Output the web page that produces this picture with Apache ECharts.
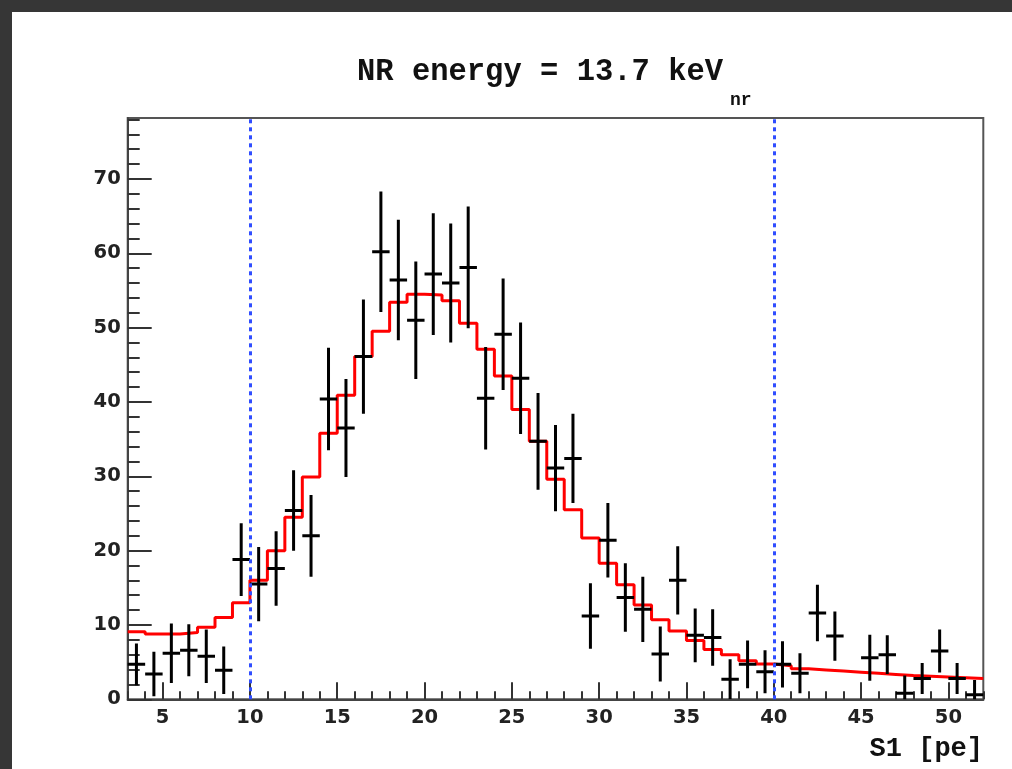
<!DOCTYPE html>
<html>
<head>
<meta charset="utf-8">
<script src="https://cdn.jsdelivr.net/npm/echarts@6/dist/echarts.min.js"></script>
<style>
  html, body { margin: 0; padding: 0; width: 1012px; height: 769px; overflow: hidden; background: #363636; }
  #chart { position: absolute; left: 12px; top: 12px; width: 1000px; height: 757px; background: #ffffff; }
</style>
</head>
<body>
<div id="chart"></div>
<script>
// S1 spectrum for 13.7 keVnr nuclear recoils: measured counts per 1 pe bin
const binCenters = [3.5, 4.5, 5.5, 6.5, 7.5, 8.5, 9.5, 10.5, 11.5, 12.5, 13.5, 14.5, 15.5, 16.5, 17.5,
  18.5, 19.5, 20.5, 21.5, 22.5, 23.5, 24.5, 25.5, 26.5, 27.5, 28.5, 29.5, 30.5, 31.5, 32.5,
  33.5, 34.5, 35.5, 36.5, 37.5, 38.5, 39.5, 40.5, 41.5, 42.5, 43.5, 44.5, 45.5, 46.5, 47.5,
  48.5, 49.5, 50.5, 51.5];
const counts = [4.7, 3.4, 6.2, 6.6, 5.8, 3.9, 18.8, 15.5, 17.6, 25.4, 22.0, 40.4, 36.5, 46.1, 60.2,
  56.4, 51.0, 57.2, 56.0, 58.1, 40.5, 49.1, 43.2, 34.7, 31.1, 32.4, 11.2, 21.4, 13.7, 12.1,
  6.1, 16.0, 8.6, 8.3, 2.7, 4.7, 3.7, 4.7, 3.5, 11.6, 8.5, null, 5.6, 6.0, 0.8,
  2.8, 6.5, 2.8, 0.6];
const countErrors = [2.8, 3.0, 4.0, 3.5, 3.6, 3.2, 4.9, 5.0, 5.0, 5.4, 5.5, 6.9, 6.6, 7.7, 8.1,
  8.1, 7.9, 8.2, 8.0, 8.2, 6.9, 7.5, 7.5, 6.5, 5.8, 6.0, 4.4, 5.0, 4.6, 4.4,
  3.7, 4.6, 3.6, 3.8, 2.7, 3.2, 2.9, 3.1, 2.7, 3.8, 3.3, null, 3.1, 2.6, 2.4,
  2.1, 2.9, 2.1, 2.0];

// Model prediction, one value per bin starting at each lower edge
const fitEdges = [3, 4, 5, 6, 7, 8, 9, 10, 11, 12, 13, 14, 15, 16, 17, 18, 19, 20, 21, 22, 23, 24, 25,
  26, 27, 28, 29, 30, 31, 32, 33, 34, 35, 36, 37, 38, 39, 40, 41, 42, 43, 44, 45, 46, 47, 48,
  49, 50, 51, 52];
const fitValues = [9.1, 8.8, 8.8, 9.0, 9.7, 11.0, 13.0, 16.0, 20.0, 24.5, 29.9, 35.8, 40.9, 46.1, 49.5,
  53.4, 54.5, 54.4, 53.6, 50.6, 47.1, 43.5, 39.0, 34.7, 29.6, 25.5, 21.7, 18.3, 15.4, 12.7,
  10.7, 9.2, 7.9, 6.7, 6.0, 5.2, 4.75, 4.5, 4.1, 3.95, 3.8, 3.65, 3.5, 3.35, 3.2,
  3.1, 3.0, 2.9, 2.8];

// Analysis window in S1
const cutLines = [10, 40];

// Axis tick positions
const xTickLabels = [5, 10, 15, 20, 25, 30, 35, 40, 45, 50];
const xMinorTicks = [3, 4, 5, 6, 7, 8, 9, 10, 11, 12, 13, 14, 15, 16, 17, 18, 19, 20, 21, 22, 23, 24,
  25, 26, 27, 28, 29, 30, 31, 32, 33, 34, 35, 36, 37, 38, 39, 40, 41, 42, 43, 44, 45, 46, 47,
  48, 49, 50, 51, 52];
const yTickLabels = [0, 10, 20, 30, 40, 50, 60, 70];
const yMinorTicks = [0, 2, 4, 6, 8, 10, 12, 14, 16, 18, 20, 22, 24, 26, 28, 30, 32, 34, 36, 38, 40,
  42, 44, 46, 48, 50, 52, 54, 56, 58, 60, 62, 64, 66, 68, 70, 72, 74, 76, 78];

const X_MIN = 3, X_MAX = 52, Y_MIN = 0, Y_MAX = 78.2;

// Data table for the error-bar crosses (empty bins are not drawn)
const pointData = [];
binCenters.forEach((c, i) => {
  if (counts[i] !== null) pointData.push([c, counts[i], countErrors[i]]);
});

// Step-histogram path for the model: last bin extended to the upper edge
const fitData = fitEdges.map((e, i) => [e, fitValues[Math.min(i, fitValues.length - 1)]]);

const tickLabelStyle = {
  fontFamily: 'DejaVu Sans', fontWeight: 'bold', fontSize: 19.5, color: '#222'
};
const tickLine = { color: '#333', width: 2 };

const chart = echarts.init(document.getElementById('chart'), null, { renderer: 'canvas' });

chart.setOption({
  animation: false,
  backgroundColor: '#ffffff',
  grid: {
    left: 115.7, top: 106, width: 855.6, height: 581.3,
    show: true, borderColor: '#555', borderWidth: 2, backgroundColor: 'transparent'
  },
  xAxis: [
    {
      type: 'value', min: X_MIN, max: X_MAX, position: 'bottom',
      axisLine: { show: true, onZero: false, lineStyle: { color: '#444', width: 2 } },
      axisTick: { show: true, inside: true, length: 17, customValues: xTickLabels, lineStyle: tickLine },
      axisLabel: Object.assign({ show: true, margin: 9, customValues: xTickLabels }, tickLabelStyle),
      splitLine: { show: false }
    },
    {
      type: 'value', min: X_MIN, max: X_MAX, position: 'bottom', offset: 0,
      axisLine: { show: false },
      axisTick: { show: true, inside: true, length: 8, customValues: xMinorTicks, lineStyle: tickLine },
      axisLabel: { show: false },
      splitLine: { show: false }
    }
  ],
  yAxis: [
    {
      type: 'value', min: Y_MIN, max: Y_MAX, position: 'left',
      axisLine: { show: true, onZero: false, lineStyle: { color: '#444', width: 2 } },
      axisTick: { show: true, inside: true, length: 24, customValues: yTickLabels, lineStyle: tickLine },
      axisLabel: Object.assign({ show: true, margin: 7, customValues: yTickLabels }, tickLabelStyle),
      splitLine: { show: false }
    },
    {
      type: 'value', min: Y_MIN, max: Y_MAX, position: 'left', offset: 0,
      axisLine: { show: false },
      axisTick: { show: true, inside: true, length: 12, customValues: yMinorTicks, lineStyle: tickLine },
      axisLabel: { show: false },
      splitLine: { show: false }
    }
  ],
  series: [
    {
      name: 'model',
      type: 'line',
      xAxisIndex: 0, yAxisIndex: 0,
      step: 'end',
      data: fitData,
      showSymbol: false,
      symbol: 'none',
      lineStyle: { color: '#ff0000', width: 3 },
      z: 2
    },
    {
      name: 'data',
      type: 'custom',
      xAxisIndex: 0, yAxisIndex: 0,
      clip: true,
      data: pointData,
      z: 3,
      renderItem: function (params, api) {
        const x = api.value(0), y = api.value(1), e = api.value(2);
        const c = api.coord([x, y]);
        const hi = api.coord([x, y + e]);
        const lo = api.coord([x, y - e]);
        const l = api.coord([x - 0.5, y]);
        const r = api.coord([x + 0.5, y]);
        const style = { stroke: '#000', lineWidth: 3 };
        return {
          type: 'group',
          children: [
            { type: 'line', shape: { x1: c[0], y1: hi[1], x2: c[0], y2: lo[1] }, style: style },
            { type: 'line', shape: { x1: l[0], y1: c[1], x2: r[0], y2: c[1] }, style: style }
          ]
        };
      }
    },
    {
      name: 'window',
      type: 'line',
      data: [],
      z: 4,
      markLine: {
        silent: true,
        symbol: 'none',
        animation: false,
        label: { show: false },
        lineStyle: { color: '#2f4dff', width: 3, type: [4, 4] },
        data: cutLines.map(v => ({ xAxis: v }))
      }
    }
  ],
  graphic: [
    {
      type: 'text', x: 345, y: 60,
      style: {
        text: 'NR energy = 13.7 keV', fill: '#111',
        font: 'bold 30.5px "Liberation Mono", monospace',
        align: 'left', verticalAlign: 'middle'
      }
    },
    {
      type: 'text', x: 718, y: 88,
      style: {
        text: 'nr', fill: '#111',
        font: 'bold 18px "Liberation Mono", monospace',
        align: 'left', verticalAlign: 'middle'
      }
    },
    {
      type: 'text', x: 971, y: 737,
      style: {
        text: 'S1 [pe]', fill: '#111',
        font: 'bold 27px "Liberation Mono", monospace',
        align: 'right', verticalAlign: 'middle'
      }
    }
  ]
});
</script>
</body>
</html>
